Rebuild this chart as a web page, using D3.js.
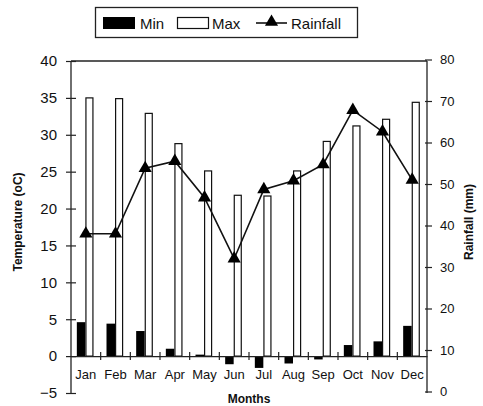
<!DOCTYPE html>
<html>
<head>
<meta charset="utf-8">
<script src="https://cdn.jsdelivr.net/npm/d3@7"></script>
<style>
  body { margin: 0; background: #fff; }
  text { font-family: Arial, "Liberation Sans", sans-serif; fill: #111; }
</style>
</head>
<body>
<div id="chart"></div>
<script>
/* data */
var months = ["Jan", "Feb", "Mar", "Apr", "May", "Jun", "Jul", "Aug", "Sep", "Oct", "Nov", "Dec"];
var minTemp = [4.6, 4.4, 3.4, 1.0, 0.2, -1.1, -1.6, -1.0, -0.45, 1.5, 2.0, 4.1];
var maxTemp = [35.0, 34.9, 32.9, 28.8, 25.1, 21.8, 21.7, 25.1, 29.1, 31.2, 32.1, 34.4];
var rainfall = [38, 38, 53.8, 55.5, 46.7, 32, 48.7, 50.8, 54.7, 67.8, 62.6, 51];
var tempTicks = [-5, 0, 5, 10, 15, 20, 25, 30, 35, 40];
var rainTicks = [0, 10, 20, 30, 40, 50, 60, 70, 80];

/* layout */
var W = 483, H = 406,
    pLeft = 71, pRight = 427, pTop = 61, pBottom = 393;

var svg = d3.select("#chart").append("svg")
    .attr("width", W).attr("height", H);

var x = d3.scaleBand().domain(months).range([pLeft, pRight]).padding(0);
var yT = d3.scaleLinear().domain([-5, 40]).range([pBottom, pTop]);
var yR = d3.scaleLinear().domain([0, 80]).range([pBottom - 1.5, pTop - 1.5]);

/* frame top line */
svg.append("line")
    .attr("x1", pLeft).attr("x2", pRight).attr("y1", pTop).attr("y2", pTop)
    .attr("stroke", "#222").attr("stroke-width", 1.3);

/* bars */
var bw = 8.5;
svg.append("g").selectAll("rect.min")
    .data(minTemp)
    .enter().append("rect")
    .attr("x", function(d, i){ return x(months[i]) + x.bandwidth() / 2 - bw - 0.5; })
    .attr("y", function(d){ return yT(Math.max(0, d)); })
    .attr("width", bw)
    .attr("height", function(d){ return Math.max(1, Math.abs(yT(d) - yT(0))); })
    .attr("fill", "#000");

svg.append("g").selectAll("rect.max")
    .data(maxTemp)
    .enter().append("rect")
    .attr("x", function(d, i){ return x(months[i]) + x.bandwidth() / 2 + 0.1; })
    .attr("y", function(d){ return yT(d); })
    .attr("width", bw - 1.5)
    .attr("height", function(d){ return yT(0) - yT(d); })
    .attr("fill", "#fff").attr("stroke", "#111").attr("stroke-width", 1.2);

/* left axis */
var axL = svg.append("g").attr("transform", "translate(" + pLeft + ",0)")
    .call(d3.axisLeft(yT).tickValues(tempTicks).tickSize(5).tickPadding(9));
axL.select(".domain").attr("stroke", "#222").attr("stroke-width", 1.3).attr("d", "M0," + pTop + "V" + pBottom);
axL.selectAll(".tick line").attr("x1", -5).attr("x2", 5).attr("stroke", "#222").attr("stroke-width", 1.2);
axL.selectAll(".tick text").style("font-size", "15px").attr("fill", "#111");

/* right axis */
var axR = svg.append("g").attr("transform", "translate(" + pRight + ",0)")
    .call(d3.axisRight(yR).tickValues(rainTicks).tickSize(5).tickPadding(8));
axR.select(".domain").attr("stroke", "#222").attr("stroke-width", 1.3).attr("d", "M0," + pTop + "V" + pBottom);
axR.selectAll(".tick line").attr("x1", -2).attr("x2", 5).attr("stroke", "#222").attr("stroke-width", 1.2);
axR.selectAll(".tick text").style("font-size", "13px").attr("fill", "#111");

/* category axis on zero line */
var axX = svg.append("g").attr("transform", "translate(0," + yT(0) + ")")
    .call(d3.axisBottom(x).tickSize(0).tickPadding(14));
axX.select(".domain").attr("stroke", "#222").attr("stroke-width", 1.3);
axX.selectAll(".tick text").style("font-size", "13px").attr("fill", "#111");
axX.append("g").selectAll("line")
    .data(months.slice(1))
    .enter().append("line")
    .attr("x1", function(d){ return x(d); }).attr("x2", function(d){ return x(d); })
    .attr("y1", -4).attr("y2", 4)
    .attr("stroke", "#222").attr("stroke-width", 1.2);

/* rainfall line */
var line = d3.line()
    .x(function(d, i){ return x(months[i]) + x.bandwidth() / 2; })
    .y(function(d){ return yR(d); });
svg.append("path").datum(rainfall)
    .attr("d", line).attr("fill", "none")
    .attr("stroke", "#111").attr("stroke-width", 1.6);

var tri = d3.symbol().type(d3.symbolTriangle).size(75);
svg.append("g").selectAll("path")
    .data(rainfall)
    .enter().append("path")
    .attr("d", tri)
    .attr("transform", function(d, i){ return "translate(" + (x(months[i]) + x.bandwidth() / 2) + "," + yR(d) + ")"; })
    .attr("fill", "#000");

/* axis titles */
svg.append("text")
    .attr("transform", "translate(22,222) rotate(-90)")
    .attr("text-anchor", "middle")
    .style("font-size", "12px").style("font-weight", "bold")
    .text("Temperature (oC)");
svg.append("text")
    .attr("transform", "translate(473,222) rotate(-90)")
    .attr("text-anchor", "middle")
    .style("font-size", "12px").style("font-weight", "bold")
    .text("Rainfall (mm)");
svg.append("text")
    .attr("x", 249).attr("y", 403)
    .attr("text-anchor", "middle")
    .style("font-size", "12px").style("font-weight", "bold")
    .text("Months");

/* legend */
var lg = svg.append("g");
lg.append("rect").attr("x", 95.5).attr("y", 7.5).attr("width", 262).attr("height", 30)
    .attr("fill", "#fff").attr("stroke", "#222").attr("stroke-width", 1.3);
lg.append("rect").attr("x", 103).attr("y", 17).attr("width", 32).attr("height", 12).attr("fill", "#000");
lg.append("text").attr("x", 140).attr("y", 29).style("font-size", "15px").text("Min");
lg.append("rect").attr("x", 177.5).attr("y", 17.5).attr("width", 31).attr("height", 11)
    .attr("fill", "#fff").attr("stroke", "#111").attr("stroke-width", 1.2);
lg.append("text").attr("x", 212).attr("y", 29).style("font-size", "15px").text("Max");
lg.append("line").attr("x1", 256).attr("x2", 287).attr("y1", 23).attr("y2", 23)
    .attr("stroke", "#111").attr("stroke-width", 1.6);
lg.append("path").attr("d", tri).attr("transform", "translate(271.5,22)").attr("fill", "#000");
lg.append("text").attr("x", 291).attr("y", 29).style("font-size", "15px").text("Rainfall");
</script>
</body>
</html>
